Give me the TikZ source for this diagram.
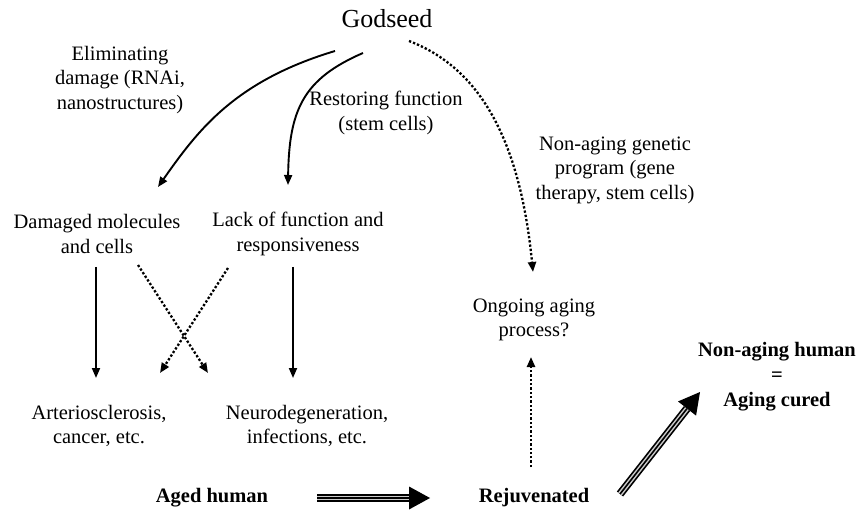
\documentclass[tikz,border=0pt]{standalone}
\usepackage{fontspec}
\setmainfont{Liberation Serif}
\usetikzlibrary{arrows.meta,calc}
\begin{document}
\begin{tikzpicture}[x=1pt,y=-1pt,
  txt/.style={align=center, inner sep=0pt, font=\fontsize{20.5}{24.5}\selectfont},
  btxt/.style={align=center, inner sep=0pt, font=\fontsize{20.5}{25}\selectfont\bfseries},
  arr/.style={-{Triangle[length=10pt,width=8pt]}, line width=1.9pt},
  dotarr/.style={arr, line width=2.3pt, dash pattern=on 2.3pt off 2pt}]
\useasboundingbox (0,0) rectangle (858,510);

\node[inner sep=0pt, font=\fontsize{26}{30}\selectfont] (god) at (387,19) {Godseed};
\node[txt] (elim) at (120,80) {Eliminating\\damage (RNAi,\\nanostructures)};
\node[txt] (rest) at (386,113) {Restoring function\\(stem cells)};
\node[txt] (nonag) at (615,170) {Non-aging genetic\\program (gene\\therapy, stem cells)};
\node[txt] (dmg) at (97,234) {Damaged molecules\\and cells};
\node[txt] (lack) at (298,234) {Lack of function and\\responsiveness};
\node[txt] (art) at (99,426) {Arteriosclerosis,\\cancer, etc.};
\node[txt] (neuro) at (307,426) {Neurodegeneration,\\infections, etc.};
\node[txt] (ongo) at (534,320) {Ongoing aging\\process?};
\node[btxt] (aged) at (212,498) {Aged human};
\node[btxt] (rej) at (534,498) {Rejuvenated};
\node[btxt] (nah) at (777,377) {Non-aging human\\=\\Aging cured};

% endpoints
\coordinate (gE) at (335,51);  \coordinate (dE) at (158,187);
\coordinate (gR) at (363,53);  \coordinate (lR) at (288,185);
\coordinate (gN) at (409,41);  \coordinate (oN) at (533,272);
\coordinate (d1) at (96,267);  \coordinate (a1) at (96,378);
\coordinate (l1) at (293,267); \coordinate (n1) at (293,378);
\coordinate (d2) at (138,265); \coordinate (n2) at (208,373);
\coordinate (l2) at (228,268); \coordinate (a2) at (160,373);
\coordinate (r1) at (531,467); \coordinate (o1) at (531,357);
\coordinate (ag1) at (317,498); \coordinate (rj1) at (430,498);
\coordinate (rj2) at (620,494); \coordinate (nh2) at (700,392);

\draw[arr] (gE) .. controls (235,81) and (198,130) .. (dE);
\draw[arr] (gR) .. controls (303,79) and (289,110) .. (lR);
\draw[dotarr] (gN) .. controls (480,68) and (520,140) .. (oN);
\draw[arr] (d1) -- (a1);
\draw[arr] (l1) -- (n1);
\draw[dotarr] (d2) -- (n2);
\draw[dotarr] (l2) -- (a2);
\draw[dotarr] (r1) -- (o1);

% big striped arrows
\foreach \s/\t in {ag1/rj1, rj2/nh2}{
  \coordinate (B) at ($(\t)!21pt!(\s)$);
  \draw[line width=8pt] (\s) -- (B);
  \draw[white!60!gray, line width=4.6pt] (\s) -- (B);
  \draw[line width=1.6pt] (\s) -- (B);
  \fill (\t) -- ($(B)!11.5pt!90:(\t)$) -- ($(B)!11.5pt!-90:(\t)$) -- cycle;
}
\end{tikzpicture}
\end{document}
